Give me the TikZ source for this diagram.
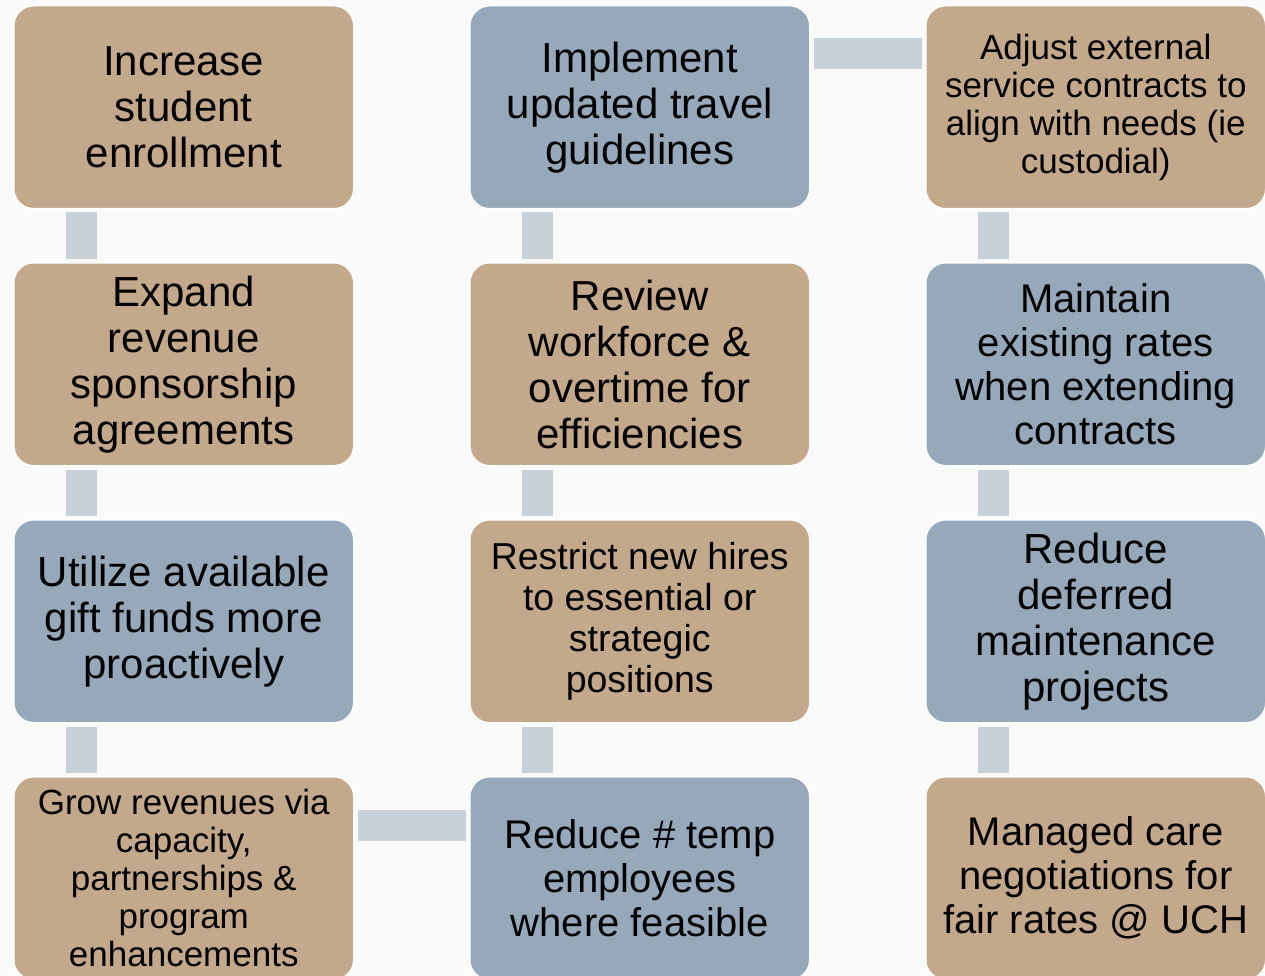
\documentclass[tikz,border=0pt]{standalone}
\usepackage{fontspec}
\setmainfont{Liberation Sans}
\begin{document}
\definecolor{bgcol}{HTML}{FAFAFA}
\definecolor{tanbox}{HTML}{C4A88B}
\definecolor{bluebox}{HTML}{97A8BA}
\definecolor{barcol}{HTML}{C8D0DA}
\begin{tikzpicture}[x=1pt,y=-1pt,
  card/.style={draw=white, line width=1.5pt, rounded corners=20pt,
    minimum width=340pt, minimum height=203pt, anchor=north west,
    align=center, inner sep=0pt, text=black},
  tancard/.style={card, fill=tanbox},
  bluecard/.style={card, fill=bluebox},
  big/.style={font=\fontsize{42}{46}\selectfont},
  mid/.style={font=\fontsize{40}{44}\selectfont},
  mids/.style={font=\fontsize{37.5}{41}\selectfont},
  small/.style={font=\fontsize{35}{38}\selectfont},
  bar/.style={draw=barcol, line width=31pt, shorten <=3pt, shorten >=3pt}
]
\fill[bgcol] (0,0) rectangle (1265,976);
\useasboundingbox (0,0) rectangle (1265,976);

% column 1
\node[tancard, big]  (a1) at (13,5)   {Increase\\student\\enrollment};
\node[tancard, big]  (a2) at (13,262) {Expand\\revenue\\sponsorship\\agreements};
\node[bluecard, big] (a3) at (13,519) {Utilize available\\gift funds more\\proactively};
\node[tancard, small](a4) at (13,776) {Grow revenues via\\capacity,\\partnerships \&\\program\\enhancements};

% column 2
\node[bluecard, big] (b1) at (469,5)   {Implement\\updated travel\\guidelines};
\node[tancard, big]  (b2) at (469,262) {Review\\workforce \&\\overtime for\\efficiencies};
\node[tancard, mids] (b3) at (469,519) {Restrict new hires\\to essential or\\strategic\\positions};
\node[bluecard, mid] (b4) at (469,776) {Reduce \# temp\\employees\\where feasible};

% column 3
\node[tancard, small](c1) at (925,5)   {Adjust external\\service contracts to\\align with needs (ie\\custodial)};
\node[bluecard, mid] (c2) at (925,262) {Maintain\\existing rates\\when extending\\contracts};
\node[bluecard, big] (c3) at (925,519) {Reduce\\deferred\\maintenance\\projects};
\node[tancard, mid]  (c4) at (925,776) {Managed care\\negotiations for\\fair rates @ UCH};

% vertical links
\foreach \col in {a,b,c}{
  \draw[bar] ([xshift=68.5pt]\col1.south west) -- ([xshift=68.5pt]\col2.north west);
  \draw[bar] ([xshift=68.5pt]\col2.south west) -- ([xshift=68.5pt]\col3.north west);
  \draw[bar] ([xshift=68.5pt]\col3.south west) -- ([xshift=68.5pt]\col4.north west);
}
% horizontal links
\draw[bar] ([yshift=-49pt]b1.north east) -- ([yshift=-49pt]c1.north west);
\draw[bar] ([yshift=-49.5pt]a4.north east) -- ([yshift=-49.5pt]b4.north west);
\end{tikzpicture}
\end{document}
